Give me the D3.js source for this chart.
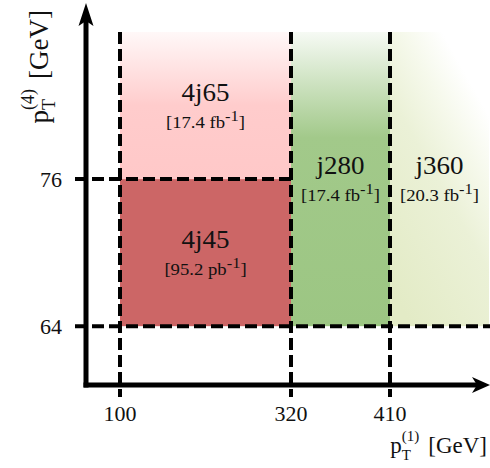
<!DOCTYPE html>
<html>
<head>
<meta charset="utf-8">
<script src="https://cdn.jsdelivr.net/npm/d3@7"></script>
<style>
  html, body { margin: 0; padding: 0; background: #fff; }
  svg { display: block; }
</style>
</head>
<body>
<script>
// ---- data ----
const triggers = ["4j45", "4j65", "j280", "j360"];
const lumiValues = ["95.2", "17.4", "17.4", "20.3"];
const lumiUnits = ["pb", "fb", "fb", "fb"];
const leadLow = [100, 100, 320, 410];     // pT(1) lower edge [GeV]
const leadHigh = [320, 320, 410, 500];    // pT(1) upper edge (500 = open)
const fourthLow = [64, 76, 64, 64];       // pT(4) lower edge [GeV]
const fourthHigh = [76, 88, 88, 88];      // pT(4) upper edge (88 = open)
const xTickValues = [100, 320, 410];
const yTickValues = [64, 76];
const fills = ["#cc6666", "url(#gPink)", "url(#gGreen)", "url(#gLime)"];

const W = 490, H = 468;
const FONT = "'Liberation Serif', 'Times New Roman', Times, serif";
const svg = d3.select("body").append("svg").attr("width", W).attr("height", H)
  .attr("font-family", FONT).style("font-family", FONT);

// schematic (piecewise) x scale, linear y scale
const x = d3.scaleLinear().domain([56, 100, 320, 410, 500]).range([86, 120, 291, 390, 489]);
const y = d3.scaleLinear().domain([59.2, 88]).range([385, 32]);

const axisX = x(56), axisY = y(59.2);

// ---- gradients ----
const defs = svg.append("defs");
const lg = (id, x1, y1, x2, y2, stops) => {
  const g = defs.append("linearGradient").attr("id", id)
    .attr("gradientUnits", "userSpaceOnUse")
    .attr("x1", x1).attr("y1", y1).attr("x2", x2).attr("y2", y2);
  stops.forEach(s => g.append("stop").attr("offset", s[0]).attr("stop-color", s[1]));
};
lg("gPink", 0, y(88), 0, y(76), [[0, "#fff8f8"], [0.5, "#ffcccc"], [1, "#ffc8c8"]]);
lg("gGreen", 0, y(88), 0, y(64), [[0, "#f6faf4"], [0.36, "#a2c98a"], [1, "#9cc683"]]);
lg("gLime", x(425), y(64.8), x(560), y(71.6),
   [[0, "#e3ebc6"], [0.55, "#ebf1d7"], [0.8, "#f6f9ec"], [1, "#ffffff"]]);

// ---- regions ----
const idx = d3.range(triggers.length);
svg.append("g").selectAll("rect").data(idx).join("rect")
  .attr("x", i => x(leadLow[i]))
  .attr("y", i => y(fourthHigh[i]))
  .attr("width", i => x(leadHigh[i]) - x(leadLow[i]))
  .attr("height", i => y(fourthLow[i]) - y(fourthHigh[i]))
  .attr("fill", i => fills[i]);

// ---- dashed boundaries ----
const dash = svg.append("g").attr("stroke", "#000").attr("stroke-width", 4)
  .attr("stroke-dasharray", "12,5").attr("fill", "none");
xTickValues.forEach(v => {
  dash.append("line").attr("x1", x(v)).attr("x2", x(v)).attr("y1", y(88)).attr("y2", axisY + 12);
});
dash.append("line").attr("x1", axisX - 11).attr("x2", x(320)).attr("y1", y(76)).attr("y2", y(76));
dash.append("line").attr("x1", axisX - 11).attr("x2", W).attr("y1", y(64)).attr("y2", y(64));

// ---- axes ----
const ax = svg.append("g");
ax.append("line").attr("x1", axisX).attr("x2", axisX).attr("y1", axisY + 2.5).attr("y2", 20)
  .attr("stroke", "#000").attr("stroke-width", 5);
ax.append("line").attr("x1", axisX - 2.5).attr("x2", W - 12).attr("y1", axisY).attr("y2", axisY)
  .attr("stroke", "#000").attr("stroke-width", 5);
ax.append("path").attr("fill", "#000")
  .attr("d", `M${axisX},3 L${axisX + 7.5},26 L${axisX},21 L${axisX - 7.5},26 Z`);
ax.append("path").attr("fill", "#000")
  .attr("d", `M${W},${axisY} L${W - 18},${axisY - 8} L${W - 13},${axisY} L${W - 18},${axisY + 8} Z`);

// ---- tick labels ----
svg.append("g").selectAll("text").data(xTickValues).join("text")
  .attr("x", d => x(d)).attr("y", 421).attr("text-anchor", "middle")
  .attr("fill", "#111").style("font-size", "22px").text(d => d);
svg.append("g").selectAll("text").data(yTickValues).join("text")
  .attr("x", 62).attr("y", d => y(d) + 7.5).attr("text-anchor", "end")
  .attr("fill", "#111").style("font-size", "22px").text(d => d);

// ---- region labels ----
idx.forEach(i => {
  const cx = (x(leadLow[i]) + x(leadHigh[i])) / 2;
  const cy = (y(fourthLow[i]) + y(fourthHigh[i])) / 2;
  svg.append("text").attr("text-anchor", "middle").attr("fill", "#111")
    .attr("transform", `translate(${cx},${cy - 5}) scale(1.08,1)`)
    .style("font-size", "25px").text(triggers[i]);
  const t = svg.append("text").attr("text-anchor", "middle").attr("fill", "#111")
    .attr("transform", `translate(${cx},${cy + 22}) scale(1.1,1)`)
    .style("font-size", "17px");
  t.append("tspan").text(`[${lumiValues[i]} ${lumiUnits[i]}`);
  t.append("tspan").attr("dy", -7).style("font-size", "15px").text("-1");
  t.append("tspan").attr("dy", 7).text("]");
});

// ---- axis titles  p_T^(n) [GeV] ----
function mathTitle(g, F, sup, supDy, subDy, gap) {
  const Fs = Math.round(F * 0.66);
  let pos = 0;
  const p = g.append("text").attr("x", 0).attr("y", 0).attr("fill", "#111").style("font-size", F + "px").text("p");
  pos += p.node().getComputedTextLength();
  const sb = g.append("text").attr("x", pos).attr("y", subDy).attr("fill", "#111").style("font-size", Fs + "px").text("T");
  const sp = g.append("text").attr("x", pos).attr("y", supDy).attr("fill", "#111").style("font-size", Fs + "px").text(sup);
  pos += Math.max(sb.node().getComputedTextLength(), sp.node().getComputedTextLength()) + gap;
  const u = g.append("text").attr("x", pos).attr("y", 0).attr("fill", "#111").style("font-size", F + "px").text("[GeV]");
  pos += u.node().getComputedTextLength();
  return pos;
}
const gx = svg.append("g");
const wx = mathTitle(gx, 23, "(1)", -12, 7, 9);
gx.attr("transform", `translate(${487 - wx},453)`);

const gy = svg.append("g");
const wy = mathTitle(gy, 27, "(4)", -14, 7, 10);
gy.attr("transform", `translate(48,${10 + wy}) rotate(-90)`);
</script>
</body>
</html>
